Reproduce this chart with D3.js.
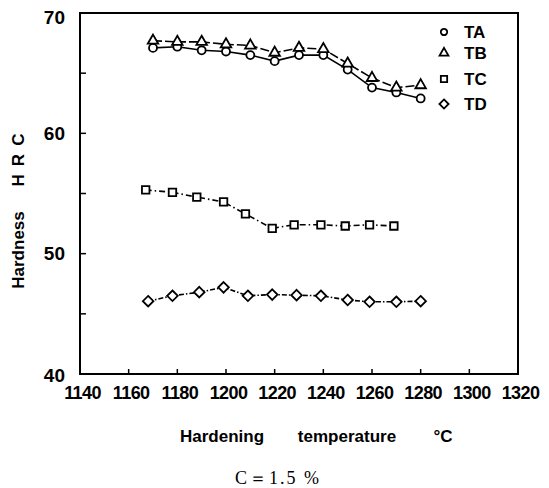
<!DOCTYPE html>
<html><head><meta charset="utf-8">
<script src="https://cdn.jsdelivr.net/npm/d3@7"></script>
<style>body{margin:0;background:#fff}svg{display:block}</style>
</head><body>
<script>
// ---- data ----
const tempsAB = [1170,1180,1190,1200,1210,1220,1230,1240,1250,1260,1270,1280];
const TA = [67.1,67.2,66.9,66.8,66.5,66.0,66.5,66.5,65.3,63.8,63.4,62.9];
const TB = [67.7,67.6,67.6,67.4,67.3,66.7,67.1,67.0,65.8,64.6,63.8,64.0];
const tempsC = [1167,1178,1188,1199,1208,1219,1228,1239,1249,1259,1269];
const TC = [55.3,55.1,54.7,54.3,53.3,52.1,52.4,52.4,52.3,52.4,52.3];
const tempsD = [1168,1178,1189,1199,1209,1219,1229,1239,1250,1259,1270,1280];
const TD = [46.05,46.5,46.8,47.2,46.5,46.6,46.55,46.5,46.15,46.0,46.0,46.05];
const xTicks = [1140,1160,1180,1200,1220,1240,1260,1280,1300,1320];
const yTicks = [40,50,60,70];
const yMinor = [45,55,65];
const seriesNames = ["TA","TB","TC","TD"];

const W=549,H=488;
const L=80,R=518,T=13,B=374;
const svg=d3.select("body").append("svg").attr("width",W).attr("height",H);
const x=d3.scaleLinear().domain([1140,1320]).range([L,R]);
const y=d3.scaleLinear().domain([40,70]).range([B,T]);
const tickFont="'Liberation Sans',Arial,sans-serif";

// frame
svg.append("rect").attr("x",L).attr("y",T).attr("width",R-L).attr("height",B-T)
  .attr("fill","none").attr("stroke","#000").attr("stroke-width",2);

// x axis ticks (inward) + labels
const xa=svg.append("g").attr("transform",`translate(0,${B})`)
  .call(d3.axisBottom(x).tickValues(xTicks).tickSize(0).tickPadding(12).tickFormat(d3.format("d")));
xa.select(".domain").remove();
xa.selectAll("text").attr("font-family",tickFont).attr("font-weight","bold").attr("font-size",18).attr("dx",2).attr("letter-spacing","-0.6px");
svg.append("g").selectAll("line").data(xTicks.filter(d=>d>1140&&d<1320)).join("line")
  .attr("x1",d=>x(d)).attr("x2",d=>x(d)).attr("y1",B).attr("y2",B-5).attr("stroke","#000").attr("stroke-width",1.5);

// y axis
const ya=svg.append("g").attr("transform",`translate(${L},0)`)
  .call(d3.axisLeft(y).tickValues(yTicks).tickSize(0).tickPadding(15).tickFormat(d3.format("d")));
ya.select(".domain").remove();
ya.selectAll("text").attr("font-family",tickFont).attr("font-weight","bold").attr("font-size",19)
  .attr("dy",(d)=>d===70?"0.55em":(d===40?"0.4em":"0.32em"));
svg.append("g").selectAll("line").data(yMinor.concat([50,60])).join("line")
  .attr("x1",L).attr("x2",L+6).attr("y1",d=>y(d)).attr("y2",d=>y(d)).attr("stroke","#000").attr("stroke-width",1.5);

// axis titles
const titleFont="'Liberation Sans',Arial,sans-serif";
svg.append("text").attr("transform","translate(24,250) rotate(-90)").attr("text-anchor","middle")
  .attr("font-family",titleFont).attr("font-weight","bold").attr("font-size",17).text("Hardness");
svg.append("text").attr("transform","translate(24,156) rotate(-90)").attr("text-anchor","middle")
  .attr("font-family",titleFont).attr("font-weight","bold").attr("font-size",17).attr("letter-spacing","8px").text("HRC");
const xt=[["Hardening",222],["temperature",347],["°C",443]];
svg.append("g").selectAll("text").data(xt).join("text").attr("x",d=>d[1]).attr("y",442).attr("text-anchor","middle")
  .attr("font-family",titleFont).attr("font-weight","bold").attr("font-size",17).text(d=>d[0]);
svg.append("text").attr("x",278).attr("y",484).attr("text-anchor","middle")
  .attr("font-family","'Liberation Serif','Times New Roman',serif").attr("font-size",18).attr("letter-spacing","2px").text("C＝1.5 %");

// rotated-square diamond
const rhombus = { draw(ctx, size){ const r=Math.sqrt(size/2); ctx.moveTo(0,-r); ctx.lineTo(r,0); ctx.lineTo(0,r); ctx.lineTo(-r,0); ctx.closePath(); } };
const sym = {
  TA: d3.symbol().type(d3.symbolCircle).size(50),
  TB: d3.symbol().type(d3.symbolTriangle).size(48),
  TC: d3.symbol().type(d3.symbolSquare).size(56),
  TD: d3.symbol().type(rhombus).size(56)
};
const legSym = {
  TA: d3.symbol().type(d3.symbolCircle).size(32),
  TB: d3.symbol().type(d3.symbolTriangle).size(34),
  TC: d3.symbol().type(d3.symbolSquare).size(40),
  TD: d3.symbol().type(rhombus).size(42)
};
const series=[
  {name:"TA",t:tempsAB,v:TA,dash:null},
  {name:"TB",t:tempsAB,v:TB,dash:"9,3"},
  {name:"TC",t:tempsC,v:TC,dash:"6,3,1.5,3"},
  {name:"TD",t:tempsD,v:TD,dash:"5,2,1.5,2"}
];
const line=d3.line().x(d=>x(d[0])).y(d=>y(d[1]));
series.forEach(s=>{
  const pts=s.t.map((t,i)=>[t,s.v[i]]);
  svg.append("path").datum(pts).attr("d",line).attr("fill","none").attr("stroke","#000")
    .attr("stroke-width",1.6).attr("stroke-dasharray",s.dash);
});
series.forEach(s=>{
  const pts=s.t.map((t,i)=>[t,s.v[i]]);
  svg.append("g").selectAll("path").data(pts).join("path")
    .attr("transform",d=>`translate(${x(d[0])},${y(d[1])})`)
    .attr("d",sym[s.name]).attr("fill","#fff").attr("stroke","#000").attr("stroke-width",1.8);
});

// legend
const legY=[32,53,79,104];
const lg=svg.append("g");
seriesNames.forEach((n,i)=>{
  lg.append("path").attr("transform",`translate(444,${legY[i]})`).attr("d",legSym[n])
    .attr("fill","#fff").attr("stroke","#000").attr("stroke-width",1.8);
  lg.append("text").attr("x",464).attr("y",legY[i]).attr("dy","0.36em")
    .attr("font-family",tickFont).attr("font-weight","bold").attr("font-size",17).text(n);
});
</script>
</body></html>
